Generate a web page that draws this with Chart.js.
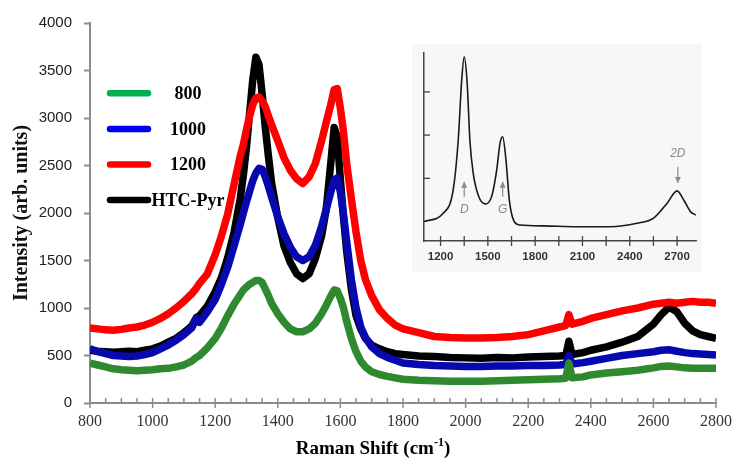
<!DOCTYPE html>
<html><head><meta charset="utf-8">
<script src="https://cdn.jsdelivr.net/npm/chart.js@4.4.0/dist/chart.umd.min.js"></script>
<style>
html,body{margin:0;padding:0;background:#fff;}
#wrap{position:relative;width:741px;height:465px;overflow:hidden;}
#main{position:absolute;left:0;top:0;}
#inset{position:absolute;left:412px;top:44px;background:#f7f7f7;}
</style></head><body>
<div id="wrap"><canvas id="main" width="741" height="465"></canvas><canvas id="inset" width="290" height="228"></canvas></div>
<script>
// ---- main chart data ----
const ramanShift = [800,825,850,875,900,925,950,975,1000,1025,1050,1075,1100,1125,
  1140,1150,1175,
  1200,1220,1240,1260,1280,
  1290,1300,1310,1320,1330,1340,1350,1360,1370,1380,
  1400,1420,1440,1460,1480,1500,1520,1540,
  1555,1570,1580,1590,1600,1610,1620,1635,1650,1665,1680,
  1700,1725,1750,1775,1800,
  1850,1900,1950,2000,2050,2100,2150,2200,2250,2300,
  2320,2330,2340,
  2375,
  2400,2450,2500,2550,2600,
  2625,2650,2675,2700,2725,2750,2775,2800];

const intensity800 = [420,400,380,360,350,345,340,345,350,360,365,380,400,440,
  480,500,580,
  680,790,920,1040,1140,
  1190,1220,1250,1270,1290,1290,1270,1200,1130,1050,
  940,850,780,750,750,780,840,940,
  1030,1130,1190,1180,1100,1000,860,680,540,440,380,
  330,300,280,265,250,
  240,235,230,230,230,235,240,245,250,255,
  260,420,265,
  275,
  295,315,330,345,370,
  385,390,380,370,365,365,365,365];

const intensity1000 = [570,540,520,500,495,490,495,510,530,570,610,660,720,790,
  890,850,960,
  1090,1250,1430,1650,1880,
  2000,2120,2230,2340,2420,2470,2460,2380,2280,2170,
  1960,1780,1640,1540,1500,1540,1660,1860,
  2040,2230,2350,2370,2220,1980,1700,1300,1000,800,690,
  590,520,480,450,420,
  405,395,390,385,385,390,390,395,395,400,
  405,500,410,
  425,
  440,470,500,520,540,
  555,560,545,530,520,515,510,505];

const intensity1200 = [790,780,770,765,775,790,800,820,850,890,940,1000,1070,1150,
  1210,1260,1360,
  1560,1760,1990,2300,2600,
  2720,2880,3020,3140,3210,3220,3180,3120,3020,2930,
  2760,2580,2450,2360,2310,2380,2520,2760,
  2960,3150,3300,3310,3100,2850,2520,2150,1800,1500,1300,
  1130,980,890,820,780,
  740,700,690,685,685,690,700,720,760,800,
  815,930,830,
  860,
  890,930,970,1000,1040,
  1050,1060,1050,1060,1070,1060,1060,1050];

const intensityHTC = [555,545,540,535,540,545,540,555,570,600,640,680,740,810,
  900,920,1020,
  1170,1320,1530,1790,2150,
  2400,2700,3050,3400,3640,3560,3250,2900,2600,2320,
  1950,1650,1480,1360,1310,1360,1520,1760,
  2050,2550,2900,2800,2350,1950,1600,1200,920,780,680,
  610,570,540,520,510,
  495,490,480,475,470,480,475,485,490,495,
  500,650,510,
  530,
  555,590,640,700,830,
  930,1010,960,840,760,720,700,680];

const seriesNames = ['800','1000','1200','HTC-Pyr'];
const seriesValues = [intensity800, intensity1000, intensity1200, intensityHTC];
const lineColors = ['#2f8a2f','#0808b0','#ff0000','#000000'];
const legendColors = ['#00b050','#0000f0','#ff0000','#000000'];
const drawOrder = [1,2,0,3];

const xTitle = 'Raman Shift (cm';
const xTitleSup = '-1';
const yTitle = 'Intensity (arb. units)';

// ---- inset data ----
const insetShift = [1095,1217,1280,1312,1334,1350,1369,1386,1407,1439,1482,1524,1556,1577,1594,1615,1636,1662,1704,1852,2064,2276,2446,2551,2636,2700,2742,2785,2820];
const insetIntensity = [0.0,0.19,0.73,1.88,3.27,3.81,3.19,1.88,1.12,0.61,0.41,0.58,1.19,1.81,1.96,1.42,0.50,0.04,-0.08,-0.10,-0.12,-0.12,-0.04,0.08,0.42,0.71,0.50,0.23,0.15];
const insetYTicks = [1,2,3];
const insetLabels = ['D','G','2D'];
const insetLabelShift = [1350,1594,2705];
const insetLabelLevel = [0.27,0.27,1.58];
const insetArrowFrom = [0.575,0.575,1.27];
const insetArrowTo = [0.92,0.92,0.89];

const AXIS_GRAY = '#8c8c8c';

const mainDecor = {
  id: 'mainDecor',
  beforeDatasetsDraw(chart) {
    const ctx = chart.ctx, a = chart.chartArea;
    ctx.save();
    chart.data.datasets.forEach((d, i) => {
      const y = a.top + 70.3 + i * 35.6;
      ctx.strokeStyle = d.legendColor;
      ctx.lineWidth = 6.5;
      ctx.lineCap = 'round';
      ctx.beginPath();
      ctx.moveTo(a.left + 20, y);
      ctx.lineTo(a.left + 58, y);
      ctx.stroke();
      ctx.fillStyle = '#000';
      ctx.font = 'bold 18px "Liberation Serif"';
      ctx.textAlign = 'center';
      ctx.textBaseline = 'middle';
      ctx.fillText(d.label, a.left + 98, y + 1);
    });
    ctx.restore();
  },
  afterDraw(chart) {
    const ctx = chart.ctx, a = chart.chartArea, xs = chart.scales.x;
    ctx.save();
    ctx.strokeStyle = AXIS_GRAY;
    ctx.lineWidth = 1.5;
    xs.ticks.forEach(t => {
      const px = xs.getPixelForValue(t.value);
      const major = t.value % 200 === 0;
      ctx.beginPath();
      ctx.moveTo(px, a.bottom - 5);
      ctx.lineTo(px, major ? a.bottom + 5 : a.bottom);
      ctx.stroke();
    });
    const f1 = 'bold 19px "Liberation Serif"', f2 = 'bold 12px "Liberation Serif"';
    ctx.font = f1;
    const w1 = ctx.measureText(xTitle).width, w3 = ctx.measureText(')').width;
    ctx.font = f2;
    const w2 = ctx.measureText(xTitleSup).width;
    const total = w1 + w2 + w3;
    const cx = a.left + (a.right - a.left) * 0.452;
    let x0 = cx - total / 2;
    const yb = 454;
    ctx.fillStyle = '#000';
    ctx.textAlign = 'left';
    ctx.textBaseline = 'alphabetic';
    ctx.font = f1; ctx.fillText(xTitle, x0, yb);
    ctx.font = f2; ctx.fillText(xTitleSup, x0 + w1, yb - 8);
    ctx.font = f1; ctx.fillText(')', x0 + w1 + w2, yb);
    ctx.restore();
  }
};

new Chart(document.getElementById('main'), {
  type: 'line',
  data: {
    datasets: seriesNames.map((n, i) => ({
      label: n,
      data: ramanShift.map((x, j) => ({x: x, y: seriesValues[i][j]})),
      borderColor: lineColors[i],
      legendColor: legendColors[i],
      borderWidth: 7.5,
      borderJoinStyle: 'round',
      pointRadius: 0,
      tension: 0,
      fill: false,
      order: drawOrder[i]
    }))
  },
  options: {
    responsive: false,
    animation: false,
    devicePixelRatio: 1,
    layout: {padding: {top: 23, right: 20, left: 0, bottom: 0}},
    plugins: {legend: {display: false}, tooltip: {enabled: false}},
    scales: {
      x: {
        type: 'linear', min: 800, max: 2800,
        afterFit(s) { s.height = 62; },
        grid: {display: true, drawOnChartArea: false, drawTicks: false},
        border: {color: AXIS_GRAY, width: 2},
        ticks: {stepSize: 50, autoSkip: false, maxRotation: 0, padding: 9, color: '#333',
          font: {family: 'Liberation Serif', size: 16},
          callback: v => (v % 200 === 0 ? String(v) : '')}
      },
      y: {
        min: 0, max: 4000,
        afterFit(s) { s.width = 90; },
        grid: {display: true, drawOnChartArea: false, tickLength: 6, tickColor: AXIS_GRAY, tickWidth: 2},
        border: {color: AXIS_GRAY, width: 2},
        ticks: {stepSize: 500, padding: 12, color: '#222',
          font: {family: 'Liberation Sans', size: 15},
          callback: v => String(v)},
        title: {display: true, text: yTitle, color: '#111',
          font: {family: 'Liberation Serif', size: 20, weight: 'bold'},
          padding: {top: 10, bottom: 0}}
      }
    }
  },
  plugins: [mainDecor]
});

const insetDecor = {
  id: 'insetDecor',
  afterDraw(chart) {
    const ctx = chart.ctx, a = chart.chartArea, xs = chart.scales.x, ys = chart.scales.y;
    ctx.save();
    ctx.strokeStyle = '#444';
    ctx.lineWidth = 1.3;
    xs.ticks.forEach(t => {
      const px = xs.getPixelForValue(t.value);
      ctx.beginPath();
      ctx.moveTo(px, a.bottom - 5);
      ctx.lineTo(px, a.bottom + 5);
      ctx.stroke();
    });
    insetYTicks.forEach(v => {
      const py = ys.getPixelForValue(v);
      ctx.beginPath();
      ctx.moveTo(a.left, py);
      ctx.lineTo(a.left + 6, py);
      ctx.stroke();
    });
    ctx.strokeStyle = '#8a8a8a';
    ctx.fillStyle = '#8a8a8a';
    ctx.lineWidth = 1.2;
    ctx.font = 'italic 12px "Liberation Sans"';
    ctx.textAlign = 'center';
    ctx.textBaseline = 'middle';
    insetLabels.forEach((lab, i) => {
      const px = xs.getPixelForValue(insetLabelShift[i]);
      ctx.fillText(lab, px, ys.getPixelForValue(insetLabelLevel[i]));
      const y1 = ys.getPixelForValue(insetArrowFrom[i]);
      const y2 = ys.getPixelForValue(insetArrowTo[i]);
      const dir = y2 < y1 ? 1 : -1;
      ctx.beginPath();
      ctx.moveTo(px, y1);
      ctx.lineTo(px, y2);
      ctx.stroke();
      ctx.beginPath();
      ctx.moveTo(px, y2);
      ctx.lineTo(px - 3, y2 + dir * 6);
      ctx.lineTo(px + 3, y2 + dir * 6);
      ctx.closePath();
      ctx.fill();
    });
    ctx.restore();
  }
};

new Chart(document.getElementById('inset'), {
  type: 'line',
  data: {
    datasets: [{
      label: 'inset',
      data: insetShift.map((x, i) => ({x: x, y: insetIntensity[i]})),
      borderColor: '#1a1a1a',
      borderWidth: 1.6,
      pointRadius: 0,
      cubicInterpolationMode: 'monotone',
      fill: false
    }]
  },
  options: {
    responsive: false,
    animation: false,
    devicePixelRatio: 1,
    layout: {padding: {left: 12, right: 6, top: 9, bottom: 0}},
    plugins: {legend: {display: false}, tooltip: {enabled: false}},
    scales: {
      x: {
        type: 'linear', min: 1095, max: 2820,
        afterFit(s) { s.height = 31; },
        grid: {display: true, drawOnChartArea: false, drawTicks: false},
        border: {color: '#444', width: 1.5},
        ticks: {stepSize: 150, includeBounds: false, autoSkip: false, maxRotation: 0, padding: 9,
          color: '#333', font: {family: 'Liberation Sans', size: 11.5, weight: 'bold'},
          callback: v => (v % 300 === 0 ? String(v) : '')}
      },
      y: {
        min: -0.45, max: 3.9,
        afterFit(s) { s.width = 0; },
        grid: {display: true, drawOnChartArea: false, drawTicks: false},
        border: {color: '#444', width: 1.5},
        ticks: {display: false, stepSize: 1}
      }
    }
  },
  plugins: [insetDecor]
});
</script>
</body></html>
